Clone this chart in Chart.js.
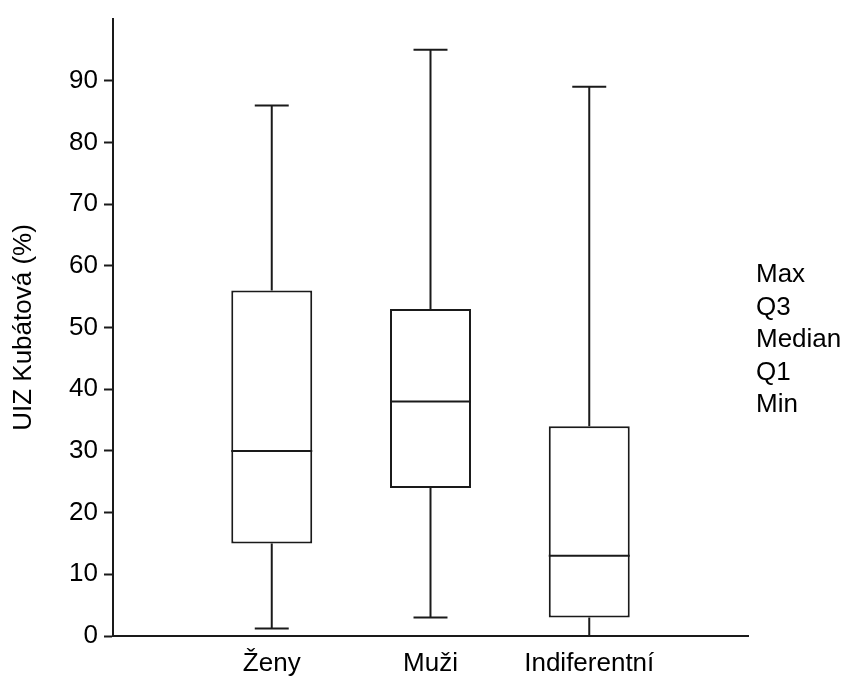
<!DOCTYPE html>
<html>
<head>
<meta charset="utf-8">
<script src="https://cdn.jsdelivr.net/npm/chart.js@4"></script>
<style>
  html, body { margin: 0; padding: 0; background: #fff; }
  #wrap { width: 848px; height: 680px; }
</style>
</head>
<body>
<div id="wrap"><canvas id="myChart" width="848" height="680"></canvas></div>
<script>
const categories = ['Ženy', 'Muži', 'Indiferentní'];
const mins = [1.2, 3, 0];
const q1s = [15, 24, 3];
const medians = [30, 38, 13];
const q3s = [56, 53, 34];
const maxs = [86, 95, 89];
const legendLabels = ['Max', 'Q3', 'Median', 'Q1', 'Min'];

// empty slots on both ends so the categories sit inside the axis
const labels = [''].concat(categories, ['']);
const boxes = [null].concat(categories.map((_, i) => [q1s[i], q3s[i]]), [null]);

const ink = '#1a1a1a';
const font = { family: 'Liberation Sans, Arial, sans-serif', size: 26 };

const whiskers = {
  id: 'whiskers',
  afterDatasetsDraw(chart) {
    const { ctx, scales: { x, y } } = chart;
    const step = x.getPixelForValue(1) - x.getPixelForValue(0);
    const cap = step * 0.107;
    const bars = chart.getDatasetMeta(0).data;
    const seg = (x0, y0, x1, y1) => {
      ctx.beginPath(); ctx.moveTo(x0, y0); ctx.lineTo(x1, y1); ctx.stroke();
    };
    ctx.save();
    ctx.strokeStyle = ink;
    ctx.lineWidth = 2;
    categories.forEach((c, i) => {
      const cx = x.getPixelForValue(i + 1);
      const half = bars[i + 1].width / 2;
      seg(cx, y.getPixelForValue(q3s[i]), cx, y.getPixelForValue(maxs[i]));
      seg(cx, y.getPixelForValue(q1s[i]), cx, y.getPixelForValue(mins[i]));
      seg(cx - cap, y.getPixelForValue(maxs[i]), cx + cap, y.getPixelForValue(maxs[i]));
      seg(cx - cap, y.getPixelForValue(mins[i]), cx + cap, y.getPixelForValue(mins[i]));
      seg(cx - half, y.getPixelForValue(medians[i]), cx + half, y.getPixelForValue(medians[i]));
    });
    ctx.restore();
  },
  afterDraw(chart) {
    const { ctx } = chart;
    ctx.save();
    ctx.fillStyle = '#000';
    ctx.font = font.size + 'px ' + font.family;
    ctx.textBaseline = 'middle';
    legendLabels.forEach((t, i) => ctx.fillText(t, 756, 275 + i * 32.5));
    ctx.restore();
  }
};

new Chart(document.getElementById('myChart'), {
  type: 'bar',
  data: {
    labels: labels,
    datasets: [{
      label: 'Q1–Q3',
      data: boxes,
      backgroundColor: '#fff',
      borderColor: ink,
      borderWidth: 2,
      borderSkipped: false,
      barPercentage: 0.51,
      categoryPercentage: 1
    }]
  },
  options: {
    responsive: false,
    animation: false,
    layout: { padding: { top: 16, right: 100, left: 0, bottom: 0 } },
    plugins: { legend: { display: false }, tooltip: { enabled: false } },
    scales: {
      x: {
        offset: false,
        grid: { display: false, drawTicks: false },
        border: { display: true, color: ink, width: 2 },
        ticks: { color: '#000', font: font, padding: 12, autoSkip: false, maxRotation: 0 },
        afterFit: s => { s.height = 44; }
      },
      y: {
        min: 0,
        max: 100,
        grid: { drawOnChartArea: false, tickLength: 9, tickColor: ink, tickWidth: 2 },
        border: { display: true, color: ink, width: 2 },
        ticks: { stepSize: 10, color: '#000', font: Object.assign({}, font, { lineHeight: 1 }), padding: 6 },
        afterBuildTicks: s => { s.ticks = s.ticks.filter(t => t.value !== 100); },
        title: { display: true, text: 'UIZ Kubátová (%)', color: '#000', font: font, padding: { top: 8, bottom: 0 } },
        afterFit: s => { s.width = 113; }
      }
    }
  },
  plugins: [whiskers]
});
</script>
</body>
</html>
